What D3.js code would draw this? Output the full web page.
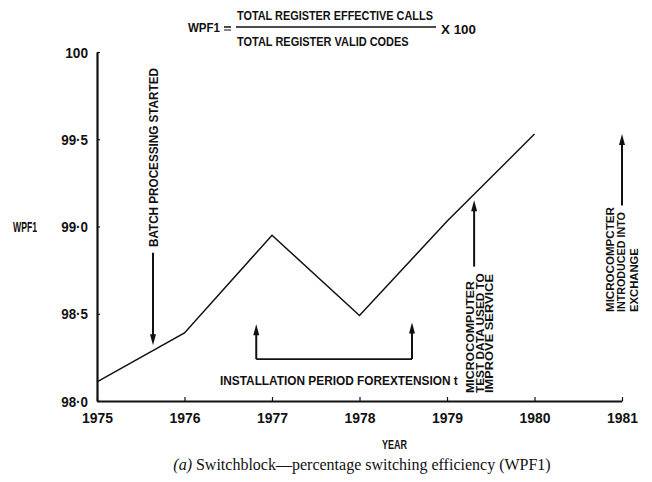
<!DOCTYPE html>
<html><head><meta charset="utf-8">
<script src="https://cdn.jsdelivr.net/npm/d3@7"></script>
<style>
body{margin:0;background:#fff;}
svg{display:block;}
.cond{font-family:"Liberation Sans","DejaVu Sans",sans-serif;font-weight:bold;fill:#111;}
</style></head>
<body><svg id="c" width="652" height="482"></svg>
<script>
const years = [1975, 1976, 1977, 1978, 1979, 1980];
const wpf = [98.11, 98.39, 98.95, 98.49, 99.03, 99.53];
const xTickValues = [1975, 1976, 1977, 1978, 1979, 1980, 1981];
const yTickValues = [98.0, 98.5, 99.0, 99.5, 100];
const yTickLabels = ["98·0", "98·5", "99·0", "99·5", "100"];
const titleNumerator = "TOTAL REGISTER EFFECTIVE CALLS";
const titleDenominator = "TOTAL REGISTER VALID CODES";
const caption = "Switchblock—percentage switching efficiency (WPF1)";

const svg = d3.select("#c");
const x = d3.scaleLinear().domain([1975, 1981]).range([97, 622]);
const y = d3.scaleLinear().domain([98, 100]).range([401, 52]);
const ink = "#111";

// condensed bold label: placed in a group that squeezes it horizontally
function ctext(px, py, str, size, width, anchor, rot) {
  const g = svg.append("g");
  const t = g.append("text").attr("class", "cond").style("font-size", size + "px")
    .attr("text-anchor", anchor || "start").text(str);
  const k = width / t.node().getComputedTextLength();
  g.attr("transform", `translate(${px},${py}) rotate(${rot || 0}) scale(${k},1)`);
  return t;
}
function squeezeAxisText(sel, perChar, shiftX) {
  sel.each(function () {
    const n = this.getComputedTextLength();
    const w = perChar * this.textContent.replace("·", "").length + (this.textContent.includes("·") ? 4 : 0);
    const k = w / n;
    this.setAttribute("x", 0);
    this.setAttribute("transform", `translate(${shiftX},0) scale(${k},1)`);
  });
}

// axes
const yAxis = d3.axisLeft(y).tickValues(yTickValues)
  .tickFormat((d, i) => yTickLabels[i]).tickSizeInner(-3).tickSizeOuter(0).tickPadding(9);
const gy = svg.append("g").attr("transform", "translate(97,0)").call(yAxis);
gy.select(".domain").attr("stroke", ink).attr("stroke-width", 2.2);
gy.selectAll(".tick line").attr("stroke", ink).attr("stroke-width", 1.2);
gy.selectAll("text").attr("class", "cond").style("font-size", "14px").attr("dy", "0.36em");
squeezeAxisText(gy.selectAll("text"), 7.6, -9);

const xAxis = d3.axisBottom(x).tickValues(xTickValues).tickFormat(d3.format("d"))
  .tickSizeInner(-4).tickSizeOuter(0).tickPadding(11);
const gx = svg.append("g").attr("transform", "translate(0,401)").call(xAxis);
gx.select(".domain").attr("stroke", ink).attr("stroke-width", 2);
gx.selectAll(".tick line").attr("stroke", ink).attr("stroke-width", 1.2);
gx.selectAll("text").attr("class", "cond").style("font-size", "15px");
squeezeAxisText(gx.selectAll("text"), 7.75, 0);

// data line
const line = d3.line().x((d, i) => x(years[i])).y(d => y(d));
svg.append("path").datum(wpf).attr("d", line)
  .attr("fill", "none").attr("stroke", ink).attr("stroke-width", 1.5).attr("stroke-linejoin", "miter");

// arrow helper
function arrow(xv, yFrom, yTo) {
  const X = x(xv), Y0 = y(yFrom), Y1 = y(yTo);
  const dir = Y1 < Y0 ? 1 : -1;
  svg.append("line").attr("x1", X).attr("x2", X).attr("y1", Y0).attr("y2", Y1 + dir * 8)
    .attr("stroke", ink).attr("stroke-width", 2);
  svg.append("path")
    .attr("d", `M${X},${Y1} L${X - 3},${Y1 + dir * 11} L${X + 3},${Y1 + dir * 11} Z`)
    .attr("fill", ink);
}
function vtext(xv, yBottomPx, str, size, w) {
  ctext(x(xv), yBottomPx, str, size, w, "start", -90).attr("dy", "0.36em");
}

// batch processing
vtext(1975.64, 247, "BATCH PROCESSING STARTED", 13.5, 179);
arrow(1975.64, 98.85, 98.32);

// installation period
arrow(1976.82, 98.24, 98.44);
arrow(1978.6, 98.24, 98.45);
svg.append("line").attr("x1", x(1976.82)).attr("x2", x(1978.6))
  .attr("y1", y(98.24)).attr("y2", y(98.24)).attr("stroke", ink).attr("stroke-width", 1.6);
ctext(220, 385, "INSTALLATION PERIOD FOREXTENSION t", 13.5, 238);

// microcomputer test data
arrow(1979.31, 98.77, 99.15);
vtext(1979.26, 393, "MICROCOMPUTER", 11.5, 112);
vtext(1979.37, 393, "TEST DATA USED TO", 11.5, 120);
vtext(1979.48, 393, "IMPROVE SERVICE", 11.5, 119);

// microcomputer introduced
vtext(1980.86, 312, "MICROCOMPCTER", 11.5, 105);
vtext(1980.99, 312, "INTRODUCED INTO", 11.5, 100);
vtext(1981.13, 312, "EXCHANGE", 11.5, 64);
arrow(1981.0, 99.12, 99.53);

// y label
ctext(13, y(99.0) + 5, "WPF1", 14, 24);

// x label
ctext(382, 449, "YEAR", 13.5, 25);

// title formula
ctext(188, 32, "WPF1", 13, 32);
svg.append("line").attr("x1", 224).attr("x2", 231).attr("y1", 27).attr("y2", 27)
  .attr("stroke", ink).attr("stroke-width", 1.5);
svg.append("line").attr("x1", 224).attr("x2", 231).attr("y1", 30).attr("y2", 30)
  .attr("stroke", ink).attr("stroke-width", 1.0);
ctext(237, 20, titleNumerator, 13, 196);
svg.append("line").attr("x1", 236).attr("x2", 436).attr("y1", 27).attr("y2", 27)
  .attr("stroke", ink).attr("stroke-width", 1.4);
ctext(237, 46, titleDenominator, 13, 172);
ctext(441, 34, "X 100", 13, 35);

// caption
const cap = svg.append("text").attr("x", 362).attr("y", 470).attr("text-anchor", "middle")
  .style("font-family", "'Liberation Serif','DejaVu Serif',serif").style("font-size", "16px").attr("fill", ink);
cap.append("tspan").style("font-style", "italic").text("(a) ");
cap.append("tspan").text(caption);
</script></body></html>
